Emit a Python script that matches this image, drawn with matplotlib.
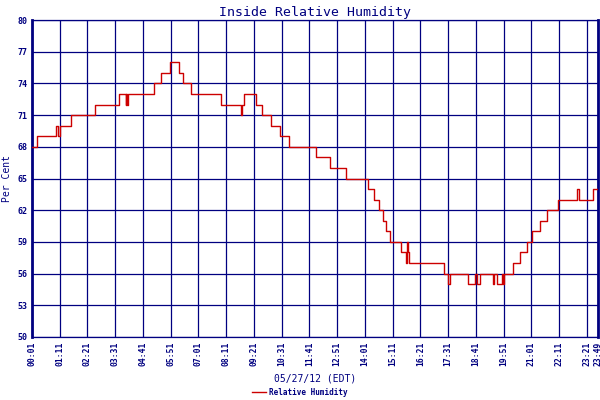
import matplotlib
matplotlib.use("Agg")
import matplotlib.pyplot as plt

# --------------------------------------------------------------
# Data (minutes after 00:01, relative humidity in %)
# --------------------------------------------------------------

step_minutes = [0, 13, 61, 66, 71, 99, 160, 220, 236, 238, 240, 243, 309, 325,
                348, 371, 382, 400, 478, 527, 529, 535, 566, 581, 603, 625,
                649, 717, 751, 792, 847, 862, 875, 886, 893, 904, 932, 944,
                946, 949, 951, 1040, 1050, 1055, 1099, 1118, 1122,
                1129, 1164, 1166, 1172, 1185, 1188, 1192, 1214, 1231, 1248,
                1262, 1282, 1300, 1328, 1376, 1379, 1415, 1428]
step_values = [68, 69, 70, 69, 70, 71, 72, 73, 72, 73, 72, 73, 74, 75,
               76, 75, 74, 73, 72, 71, 72, 73, 72, 71, 70, 69,
               68, 67, 66, 65, 64, 63, 62, 61, 60, 59, 58, 57,
               59, 58, 57, 56, 55, 56, 55, 56, 55,
               56, 55, 56, 55, 56, 55, 56, 57, 58, 59,
               60, 61, 62, 63, 64, 63, 64, 64]

x_tick_minutes = [0, 70, 140, 210, 280, 350, 420, 490, 560, 630, 700, 770,
                  840, 910, 980, 1050, 1120, 1190, 1260, 1330, 1400, 1428]
x_tick_labels = ["00:01", "01:11", "02:21", "03:31", "04:41", "05:51",
                 "07:01", "08:11", "09:21", "10:31", "11:41", "12:51",
                 "14:01", "15:11", "16:21", "17:31", "18:41", "19:51",
                 "21:01", "22:11", "23:21", "23:49"]
y_ticks = [50, 53, 56, 59, 62, 65, 68, 71, 74, 77, 80]

# --------------------------------------------------------------
# Plot
# --------------------------------------------------------------

navy = "#000080"
red = "#cc0000"
mono = "DejaVu Sans Mono"

fig = plt.figure(figsize=(6, 4), dpi=100)
ax = fig.add_axes([0.0533, 0.1575, 0.9434, 0.7925])

ax.step(step_minutes, step_values, where="post", color=red, lw=1.0,
        label="Relative Humidity", zorder=3)

ax.set_xlim(0, 1428)
ax.set_ylim(50, 80)
ax.set_xticks(x_tick_minutes)
ax.set_xticklabels(x_tick_labels, rotation=90, fontsize=5.8,
                   fontweight="bold", family=mono, color=navy)
ax.set_yticks(y_ticks)
ax.set_yticklabels([str(v) for v in y_ticks], fontsize=6,
                   fontweight="bold", family=mono, color=navy)
ax.tick_params(length=0, pad=3)
ax.grid(True, color=navy, lw=0.9)

for side in ["top", "bottom"]:
    ax.spines[side].set_color(navy)
    ax.spines[side].set_linewidth(0.9)
for side in ["left", "right"]:
    ax.spines[side].set_color(navy)
    ax.spines[side].set_linewidth(2)

ax.set_title("Inside Relative Humidity", fontsize=9.5, family=mono,
             color=navy, pad=3)
ax.set_xlabel("05/27/12 (EDT)", fontsize=7, family=mono, color=navy,
              labelpad=6)
ax.set_ylabel("Per Cent", fontsize=7, family=mono, color=navy, labelpad=4)

fig.legend(loc="lower center", bbox_to_anchor=(0.5, -0.01), frameon=False,
           prop={"family": mono, "size": 5.5, "weight": "bold"},
           labelcolor=navy, handlelength=1.8, handletextpad=0.4)

fig.savefig("out.png", dpi=100)
